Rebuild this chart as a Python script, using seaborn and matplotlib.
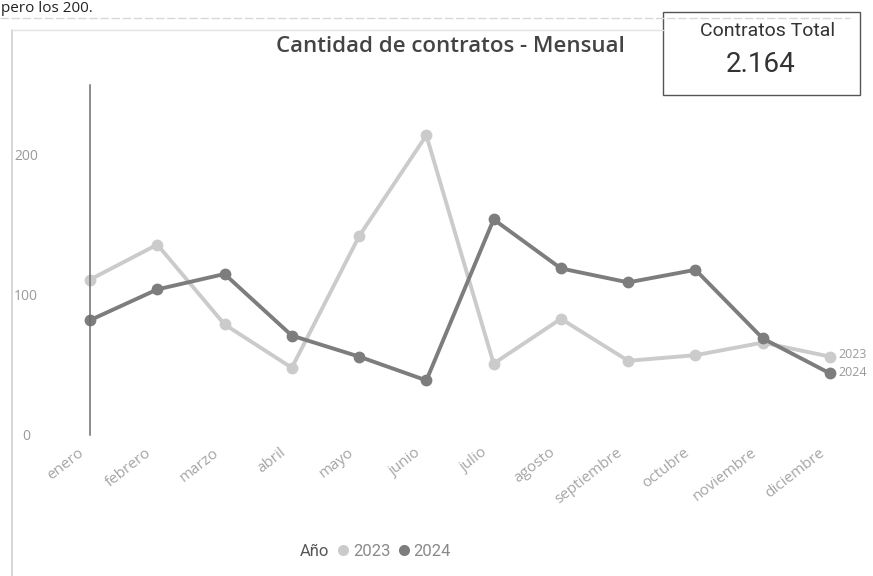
import numpy as np
import pandas as pd
import matplotlib
matplotlib.use('agg')
import matplotlib.pyplot as plt
import matplotlib.transforms as mtransforms
from matplotlib.lines import Line2D
from matplotlib.patches import Rectangle
import seaborn as sns

# data
meses = ['enero', 'febrero', 'marzo', 'abril', 'mayo', 'junio', 'julio',
         'agosto', 'septiembre', 'octubre', 'noviembre', 'diciembre']
contratos_2023 = [111, 136, 79, 48, 142, 214, 51, 83, 53, 57, 66, 56]
contratos_2024 = [82, 104, 115, 71, 56, 39, 154, 119, 109, 118, 69, 44]
anios = ['2023', '2024']
total_label = '2.164'
yticks = [0, 100, 200]

colores = {'2023': '#cbcbcb', '2024': '#7d7d7d'}

dfData = pd.DataFrame({
    'mes': meses * 2,
    'pos': list(range(len(meses))) * 2,
    'contratos': contratos_2023 + contratos_2024,
    'anio': ['2023'] * len(meses) + ['2024'] * len(meses),
})

sns.set_style('white')
plt.rcParams['font.family'] = ['Open Sans', 'DejaVu Sans']
narrow = ['Liberation Sans Narrow', 'Roboto', 'DejaVu Sans']

W, H = 873, 576
fig = plt.figure(figsize=(W / 100, H / 100), dpi=100)
fig.patch.set_facecolor('white')

# axes placed so enero sits at x=90px and diciembre at x=830px
ax = fig.add_axes([90 / W, 1 - 435 / H, 740 / W, 350 / H])
sns.lineplot(data=dfData, x='pos', y='contratos', hue='anio', palette=colores,
             marker='o', markersize=8.5, markeredgewidth=0, linewidth=2.8,
             legend=False, ax=ax)
for ln in ax.get_lines():
    ln.set_clip_on(False)
ax.set_xlim(0, len(meses) - 1)
ax.set_ylim(0, 250)
ax.set_xlabel('')
ax.set_ylabel('')
ax.set_facecolor('none')

for s in ['top', 'right', 'bottom']:
    ax.spines[s].set_visible(False)
ax.spines['left'].set_color('#6e6e6e')
ax.spines['left'].set_linewidth(1.1)

ax.set_yticks(yticks)
ax.set_yticklabels([str(v) for v in yticks], fontsize=10, color='#9a9a9a')
ax.tick_params(axis='y', length=0, pad=46)
for lbl in ax.get_yticklabels():
    lbl.set_horizontalalignment('center')
ax.set_xticks(range(len(meses)))
ax.set_xticklabels(meses, rotation=38, ha='right', va='top',
                   rotation_mode='anchor', fontsize=11, color='#a5a5a5')
ax.tick_params(axis='x', length=0, pad=0)
offset = mtransforms.ScaledTranslation(-12 / 100, -10 / 100, fig.dpi_scale_trans)
for lbl in ax.get_xticklabels():
    lbl.set_transform(lbl.get_transform() + offset)

# series labels at the right end
fig.text(838 / W, 1 - 355 / H, anios[0], fontsize=9, color='#9a9a9a', va='center')
fig.text(838 / W, 1 - 372 / H, anios[1], fontsize=9, color='#9a9a9a', va='center')

# title
fig.text(450 / W, 1 - 47 / H, 'Cantidad de contratos - Mensual', ha='center',
         va='center', fontsize=16, fontweight='semibold', color='#444444')

# card
fig.add_artist(Rectangle((663 / W, 1 - 95 / H), 197 / W, 83 / H,
                         transform=fig.transFigure, fill=False,
                         edgecolor='#555555', linewidth=1.0))
fig.text(768 / W, 1 - 31 / H, 'Contratos Total', ha='center', va='center',
         fontsize=14, color='#333333', family=narrow)
fig.text(761 / W, 1 - 64 / H, total_label, ha='center', va='center',
         fontsize=20, color='#333333', family=narrow)

# frame lines of the report
fig.add_artist(Line2D([12 / W, 12 / W], [0, 1 - 30 / H], transform=fig.transFigure,
                      color='#d0d0d0', linewidth=1.2))
fig.add_artist(Line2D([12 / W, 663 / W], [1 - 30 / H, 1 - 30 / H],
                      transform=fig.transFigure, color='#e2e2e2', linewidth=1.0))
fig.add_artist(Line2D([0, 850 / W], [1 - 18 / H, 1 - 18 / H],
                      transform=fig.transFigure, color='#d8d8d8', linewidth=1.0,
                      linestyle=(0, (6, 2))))
fig.text(1 / W, 1 - 1 / H, 'pero los 200.', ha='left', va='top', fontsize=11,
         color='#222222')

# legend
handles = [Line2D([], [], linestyle='none')]
handles += [Line2D([], [], linestyle='none', marker='o', markersize=8,
                   markerfacecolor=colores[a], markeredgewidth=0) for a in anios]
leg = fig.legend(handles, ['Año'] + anios, loc='center', ncol=3,
                 bbox_to_anchor=(368 / W, 1 - 551 / H), frameon=False,
                 handlelength=0.6, handletextpad=0.3, columnspacing=0.5,
                 prop={'family': narrow, 'size': 12})
for i, t in enumerate(leg.get_texts()):
    t.set_color('#555555' if i == 0 else '#8a8a8a')

fig.savefig('out.png', dpi=100)
